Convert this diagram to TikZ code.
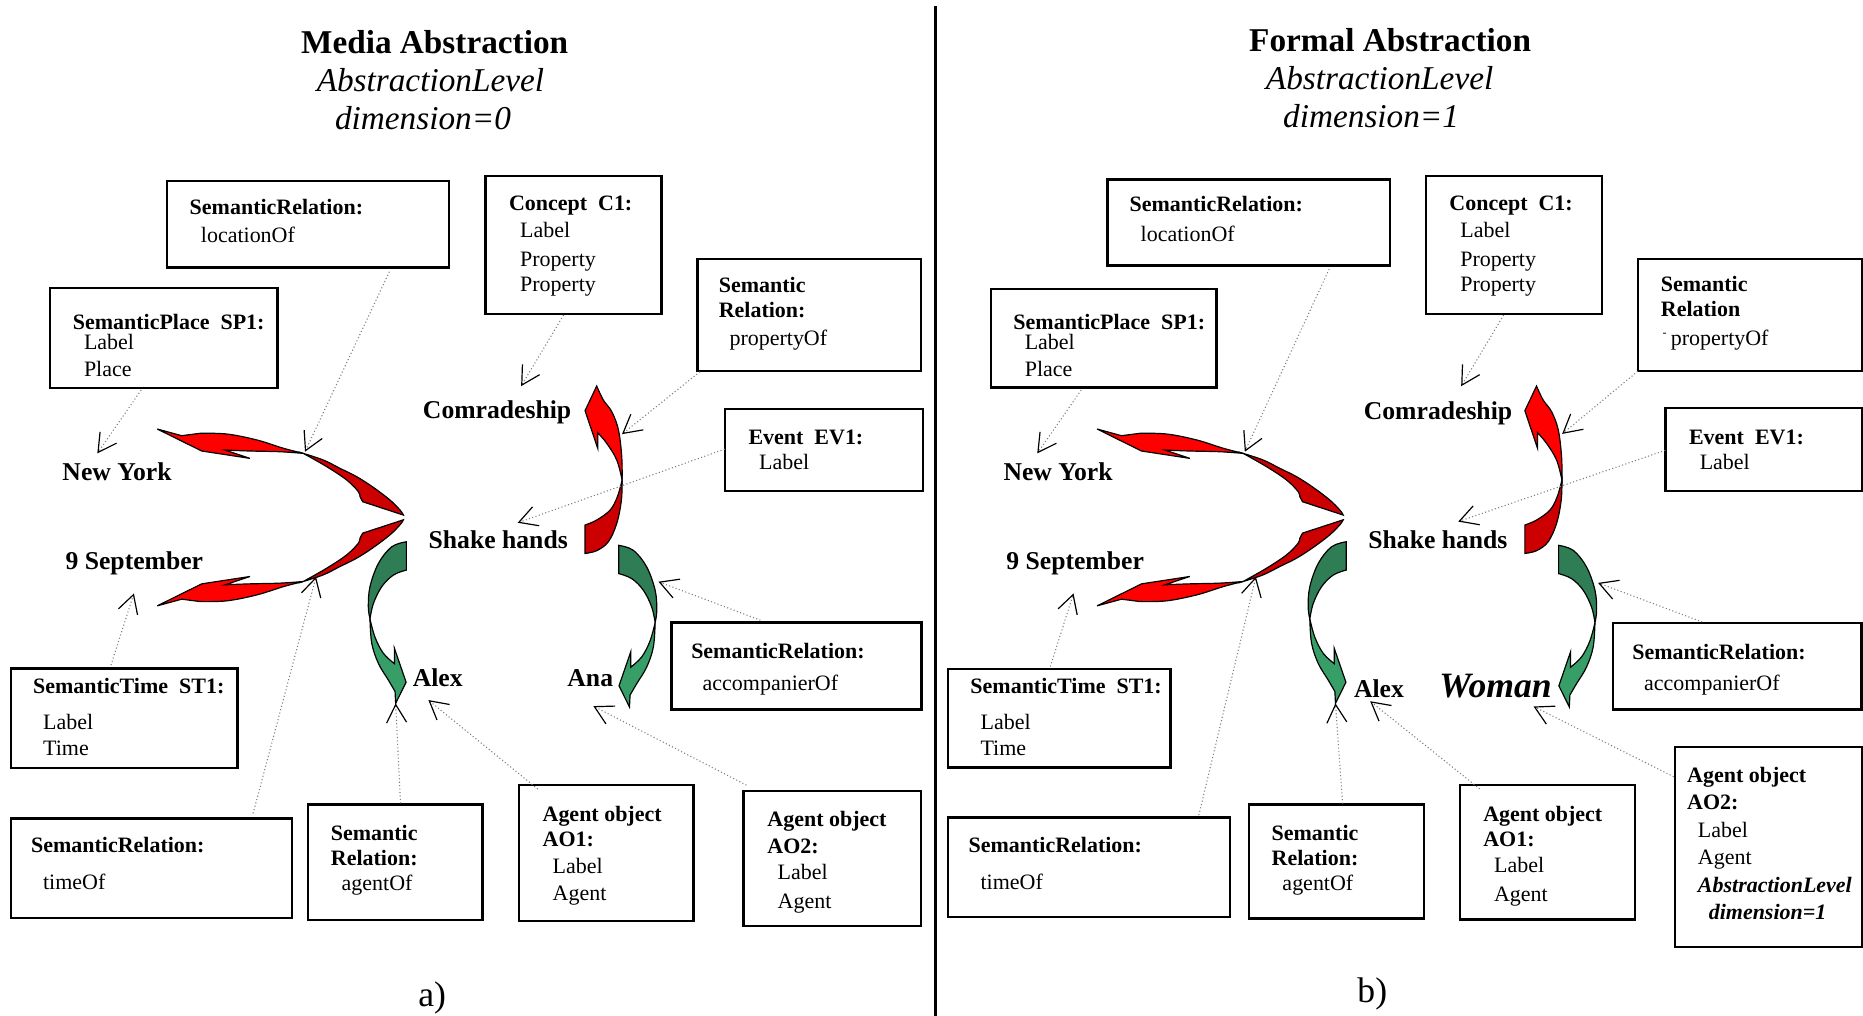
\documentclass[tikz,border=0pt]{standalone}
\usepackage{fontspec}
\setmainfont{Liberation Serif}
\usetikzlibrary{arrows.meta}
\definecolor{redhi}{RGB}{255,0,0}
\definecolor{redlo}{RGB}{204,0,0}
\definecolor{grnlo}{RGB}{46,125,84}
\definecolor{grnhi}{RGB}{56,158,104}
\definecolor{conn}{RGB}{125,125,125}
\newcommand\fbody{\fontsize{9.25}{11}\selectfont}
\newcommand\fbb{\fontsize{9.25}{11}\selectfont\bfseries}
\newcommand\fbi{\fontsize{9.25}{11}\selectfont\bfseries\itshape}
\newcommand\fword{\fontsize{10.8}{13}\selectfont\bfseries}
\newcommand\ftitle{\fontsize{14}{16}\selectfont\bfseries}
\newcommand\fital{\fontsize{14}{16}\selectfont\itshape}
\newcommand\fwoman{\fontsize{15}{18}\selectfont\bfseries\itshape}
\newcommand\flab{\fontsize{15}{18}\selectfont}
\tikzset{
 boxst/.style={draw=black, line width=1pt, inner sep=0pt, outer sep=0pt},
 txt/.style={anchor=base west, inner sep=0pt, outer sep=0pt},
 ctr/.style={anchor=base, inner sep=0pt, outer sep=0pt},
 link/.style={draw=conn, line width=0.45pt, densely dotted, -{Straight Barb[length=7.6pt,width=8.4pt,line width=0.5pt,color=black]}},
 rib/.style={draw=black, line width=0.5pt, line join=miter},
}
\newcommand\bx[5]{\node[boxst, minimum width={(#4-#2)*0.5pt}, minimum height={(#5-#3)*0.5pt}] (#1) at ({(#2+#4)/2},{(#3+#5)/2}) {};}
% red arm pointing left (top-left one)
\newcommand\redarm{%
 \filldraw[rib, fill=redlo] (255.3,381.6) -- plot[smooth, tension=0.6] coordinates {(255.3,381.6) (272.2,387.2) (286.2,394.2) (300.2,401.2) (314.2,410.2) (328.3,420.9) (336.7,429.3) (339.5,433.5)} -- (305.3,422.3) -- plot[smooth,tension=0.6] coordinates {(305.3,422.3) (303,418) (301.6,413.8) (291.8,404) (275,392.8) (255.3,381.6)} -- cycle;
 \filldraw[rib, fill=redhi] (132.4,361.1) -- (152.9,366.7) -- (168.4,364.7) -- plot[smooth, tension=0.6] coordinates {(168.4,364.7) (190.9,365.3) (216.2,370.3) (238.6,377.3) (255.3,381.6)} -- plot[smooth,tension=0.6] coordinates {(255.3,381.6) (235.7,380.2) (210.4,379.6) (189.4,378.8)} -- (210.4,385.8) -- (169.8,379.6) -- cycle;
}
% green arm (left one, pointing down)
\newcommand\grnarm{%
 \filldraw[rib, fill=grnlo] (342,456) -- (342,479.8) -- plot[smooth, tension=0.6] coordinates {(342,479.8) (331.1,484) (321.3,493.8) (314.3,507.9) (311.4,521)} -- plot[smooth, tension=0.6] coordinates {(311.4,521) (310,510.7) (311.4,493.8) (318.5,474.2) (329.7,460.2) (342,456)} -- cycle;
 \filldraw[rib, fill=grnhi] (311.4,521) -- plot[smooth, tension=0.6] coordinates {(311.4,521) (312.9,541.5) (318.5,558.4) (326.9,572.4) (332.5,582)} -- (333,592) -- (341.8,574.2) -- (331.9,545.5) -- (332,558.6) -- plot[smooth, tension=0.6] coordinates {(332,558.6) (322.7,549.9) (315.7,536.5) (311.4,521)} -- cycle;
}
% red arm pointing up (right one)
\newcommand\redup{%
 \filldraw[rib, fill=redlo] (523.6,404) -- plot[smooth, tension=0.6] coordinates {(523.6,404) (523,420.9) (519.1,440.5) (512,456) (502.2,463.5) (492.4,465.8)} -- (492.4,441.9) -- plot[smooth, tension=0.6] coordinates {(492.4,441.9) (502.2,437.7) (513.5,429.3) (519.6,418.1) (523.6,404)} -- cycle;
 \filldraw[rib, fill=redhi] (502.2,324.9) -- plot[smooth, tension=0.6] coordinates {(502.2,324.9) (507.8,336.7) (514.9,346.5) (520.5,361.9) (523.3,384.4) (523.6,404)} -- plot[smooth, tension=0.6] coordinates {(523.6,404) (519.1,387.2) (510.7,373.2) (503.1,364.2)} -- (503.1,377.4) -- (492.4,345.7) -- cycle;
}
\newcommand\ribbons{%
 \redarm
 \begin{scope}[shift={(0,871)}, yscale=-1]\redarm\end{scope}
 \redup
 \grnarm
 \begin{scope}[shift={(862.8,3)}, xscale=-1]\grnarm\end{scope}
}
\begin{document}
\begin{tikzpicture}[x=0.5pt, y=-0.5pt]
\useasboundingbox (0,0) rectangle (1568,855);
\fill[white] (0,0) rectangle (1568,855);
% divider
\draw[line width=1pt] (787.2,5) -- (787.2,855);
% titles
\node[ctr,font=\ftitle] (t1) at (365.8,44.9) {Media Abstraction};
\node[txt,font=\fital] (t2) at (266.6,77.2) {AbstractionLevel};
\node[txt,font=\fital] (t3) at (282,108.9) {dimension=0};
\node[ctr,font=\ftitle] (t4) at (1170,43.2) {Formal Abstraction};
\node[txt,font=\fital] (t5) at (1065.5,75.5) {AbstractionLevel};
\node[txt,font=\fital] (t6) at (1080,107) {dimension=1};
\node[ctr,font=\flab] (la) at (363.8,847.4) {a)};
\node[ctr,font=\flab] (lb) at (1155,843.5) {b)};
% ribbons
\ribbons
\begin{scope}[shift={(791,0)}]\ribbons\end{scope}
% ---------- left boxes
\bx{B1}{140.5}{152.1}{378}{225}
\bx{B2}{42.1}{242.2}{233.7}{326.6}
\bx{B3}{408.5}{147.9}{556.6}{264.3}
\bx{B4}{587}{218}{775}{312}
\bx{B5}{610}{344}{777}{413}
\bx{B6}{565.2}{524}{775.6}{597.1}
\bx{B7}{9.1}{562.6}{199.8}{646.2}
\bx{B8}{9.1}{688.8}{245.7}{772.4}
\bx{B9}{259.4}{677}{406.2}{774.4}
\bx{B10}{437}{660.8}{583.8}{775.3}
\bx{B11}{625.7}{665.5}{775}{779.2}
\node[txt,font=\fbb] (l1a) at (159.7,180.2) {SemanticRelation:};
\node[txt,font=\fbody] (l1b) at (169.1,204.3) {locationOf};
\node[txt,font=\fbb] (l2a) at (61.3,277) {SemanticPlace\ \ SP1:};
\node[txt,font=\fbody] (l2b) at (70.7,294) {Label};
\node[txt,font=\fbody] (l2c) at (70.7,316.5) {Place};
\node[txt,font=\fbb] (l3a) at (428.4,176.8) {Concept\ \ C1:};
\node[txt,font=\fbody] (l3b) at (437.8,200) {Label};
\node[txt,font=\fbody] (l3c) at (437.8,224) {Property};
\node[txt,font=\fbody] (l3d) at (437.8,245.5) {Property};
\node[txt,font=\fbb] (l4a) at (605,246) {Semantic};
\node[txt,font=\fbb] (l4b) at (605,267) {Relation:};
\node[txt,font=\fbody] (l4c) at (614,291) {propertyOf};
\node[txt,font=\fbb] (l5a) at (630,374) {Event\ \ EV1:};
\node[txt,font=\fbody] (l5b) at (639,395.4) {Label};
\node[txt,font=\fbb] (l6a) at (581.8,554.1) {SemanticRelation:};
\node[txt,font=\fbody] (l6b) at (591.4,580.8) {accompanierOf};
\node[txt,font=\fbb] (l7a) at (27.8,583.6) {SemanticTime\ \ ST1:};
\node[txt,font=\fbody] (l7b) at (36.3,613.9) {Label};
\node[txt,font=\fbody] (l7c) at (36.3,636.1) {Time};
\node[txt,font=\fbb] (l8a) at (26.2,717.7) {SemanticRelation:};
\node[txt,font=\fbody] (l8b) at (36.3,748.6) {timeOf};
\node[txt,font=\fbb] (l9a) at (278.5,707) {Semantic};
\node[txt,font=\fbb] (l9b) at (278.5,728.7) {Relation:};
\node[txt,font=\fbody] (l9c) at (287.6,749.7) {agentOf};
\node[txt,font=\fbb] (l10a) at (456.7,691) {Agent object};
\node[txt,font=\fbb] (l10b) at (456.7,712.7) {AO1:};
\node[txt,font=\fbody] (l10c) at (465.2,735.1) {Label};
\node[txt,font=\fbody] (l10d) at (465.2,757.6) {Agent};
\node[txt,font=\fbb] (l11a) at (645.9,695.8) {Agent object};
\node[txt,font=\fbb] (l11b) at (645.9,718.3) {AO2:};
\node[txt,font=\fbody] (l11c) at (654.5,740.2) {Label};
\node[txt,font=\fbody] (l11d) at (654.5,764.6) {Agent};
% left words
\node[txt,font=\fword] (w1) at (356,352.2) {Comradeship};
\node[txt,font=\fword] (w2) at (52.6,404) {New York};
\node[txt,font=\fword] (w3) at (360.8,461.6) {Shake hands};
\node[txt,font=\fword] (w4) at (55.2,479.3) {9 September};
\node[txt,font=\fword] (w5) at (347.4,578) {Alex};
\node[txt,font=\fword] (w6) at (477.6,578) {Ana};
% ---------- right boxes
\bx{R1}{932}{151}{1169.7}{223.4}
\bx{R2}{834}{243}{1024}{326}
\bx{R3}{1200.4}{147.9}{1348.1}{264.3}
\bx{R4}{1378.4}{218}{1567}{312}
\bx{R5}{1401.6}{343.5}{1567.2}{413.3}
\bx{R6}{1357.8}{524.2}{1566.6}{597}
\bx{R7}{798}{563}{985}{646}
\bx{R8}{798}{688}{1035}{772}
\bx{R9}{1051}{677}{1198.6}{773}
\bx{R10}{1228.8}{660.5}{1376}{773.8}
\bx{R11}{1409.5}{628.6}{1567.2}{797.2}
\node[txt,font=\fbb] (r1a) at (950.7,177.8) {SemanticRelation:};
\node[txt,font=\fbody] (r1b) at (960.1,203.3) {locationOf};
\node[txt,font=\fbb] (r2a) at (853,277) {SemanticPlace\ \ SP1:};
\node[txt,font=\fbody] (r2b) at (862.5,294) {Label};
\node[txt,font=\fbody] (r2c) at (862.5,316.5) {Place};
\node[txt,font=\fbb] (r3a) at (1219.9,176.8) {Concept\ \ C1:};
\node[txt,font=\fbody] (r3b) at (1229.1,200) {Label};
\node[txt,font=\fbody] (r3c) at (1229.1,224) {Property};
\node[txt,font=\fbody] (r3d) at (1229.1,245.5) {Property};
\node[txt,font=\fbb] (r4a) at (1397.9,245.5) {Semantic};
\node[txt,font=\fbb] (r4b) at (1397.9,266.6) {Relation};
\node[txt,font=\fbody] (r4c) at (1406.3,290.4) {propertyOf};
\node[txt,font=\fontsize{5}{6}\selectfont] (r4t) at (1399.3,283) {-};
\node[txt,font=\fbb] (r5a) at (1421.6,373.8) {Event\ \ EV1:};
\node[txt,font=\fbody] (r5b) at (1430.6,395.4) {Label};
\node[txt,font=\fbb] (r6a) at (1373.8,554.7) {SemanticRelation:};
\node[txt,font=\fbody] (r6b) at (1383.8,580.8) {accompanierOf};
\node[txt,font=\fbb] (r7a) at (816.8,583.6) {SemanticTime\ \ ST1:};
\node[txt,font=\fbody] (r7b) at (825.3,613.9) {Label};
\node[txt,font=\fbody] (r7c) at (825.3,636.1) {Time};
\node[txt,font=\fbb] (r8a) at (815.2,717.7) {SemanticRelation:};
\node[txt,font=\fbody] (r8b) at (825.3,748.6) {timeOf};
\node[txt,font=\fbb] (r9a) at (1070.3,707) {Semantic};
\node[txt,font=\fbb] (r9b) at (1070.3,728.7) {Relation:};
\node[txt,font=\fbody] (r9c) at (1079.4,749.7) {agentOf};
\node[txt,font=\fbb] (r10a) at (1248.4,691.4) {Agent object};
\node[txt,font=\fbb] (r10b) at (1248.4,712.7) {AO1:};
\node[txt,font=\fbody] (r10c) at (1257.5,734.3) {Label};
\node[txt,font=\fbody] (r10d) at (1257.5,758.4) {Agent};
\node[txt,font=\fbb] (r11a) at (1420,658.8) {Agent object};
\node[txt,font=\fbb] (r11b) at (1420,681.1) {AO2:};
\node[txt,font=\fbody] (r11c) at (1429.1,704.5) {Label};
\node[txt,font=\fbody] (r11d) at (1429.1,727.5) {Agent};
\node[txt,font=\fbi] (r11e) at (1429.1,751.5) {AbstractionLevel};
\node[txt,font=\fbi] (r11f) at (1438.2,773.8) {dimension=1};
% right words
\node[txt,font=\fword] (v1) at (1147.9,352.7) {Comradeship};
\node[txt,font=\fword] (v2) at (844.6,404) {New York};
\node[txt,font=\fword] (v3) at (1151.7,462) {Shake hands};
\node[txt,font=\fword] (v4) at (847,479.3) {9 September};
\node[txt,font=\fword] (v5) at (1139.6,586.7) {Alex};
\node[txt,font=\fwoman] (v6) at (1211.5,586.7) {Woman};
% ---------- connectors, left
\coordinate (a1) at (327.7,228.7); \coordinate (b1) at (256.7,380.2);
\coordinate (a2) at (118.8,328.3); \coordinate (b2) at (81.9,381.6);
\coordinate (a3) at (474.3,265.2); \coordinate (b3) at (438.6,325);
\coordinate (a4) at (589,312.9);   \coordinate (b4) at (523.5,365.4);
\coordinate (a5) at (610,378);     \coordinate (b5) at (435.7,440);
\coordinate (a6) at (640,522);     \coordinate (b6) at (554.2,489.6);
\coordinate (a7) at (93.4,559.7);  \coordinate (b7) at (112.7,499.5);
\coordinate (a8) at (213,684.6);   \coordinate (b8) at (266,485.5);
\coordinate (a9) at (337.1,676.2); \coordinate (b9) at (333,592);
\coordinate (a10) at (452.6,664.1); \coordinate (b10) at (360.5,589.2);
\coordinate (a11) at (628.2,660.8); \coordinate (b11) at (499.4,594.3);
\foreach \i in {1,...,11} {\draw[link] (a\i) -- (b\i);}
% ---------- connectors, right
\coordinate (c1) at (1118.7,226.5); \coordinate (d1) at (1047.7,380.2);
\coordinate (c2) at (910,328.3);    \coordinate (d2) at (873,381.6);
\coordinate (c3) at (1265.5,265.2); \coordinate (d3) at (1229.8,325);
\coordinate (c4) at (1378.4,312.5); \coordinate (d4) at (1314.8,365.2);
\coordinate (c5) at (1401.6,379);   \coordinate (d5) at (1227.3,439);
\coordinate (c6) at (1432.7,523.5); \coordinate (d6) at (1345,490.6);
\coordinate (c7) at (884,561);      \coordinate (d7) at (903.5,499.5);
\coordinate (c8) at (1009,686);     \coordinate (d8) at (1057,485.5);
\coordinate (c9) at (1130,676.4);   \coordinate (d9) at (1124,592);
\coordinate (c10) at (1245.4,664);  \coordinate (d10) at (1153.2,590.2);
\coordinate (c11) at (1408.6,653.7); \coordinate (d11) at (1290.7,594.6);
\foreach \i in {1,...,11} {\draw[link] (c\i) -- (d\i);}
\end{tikzpicture}
\end{document}
